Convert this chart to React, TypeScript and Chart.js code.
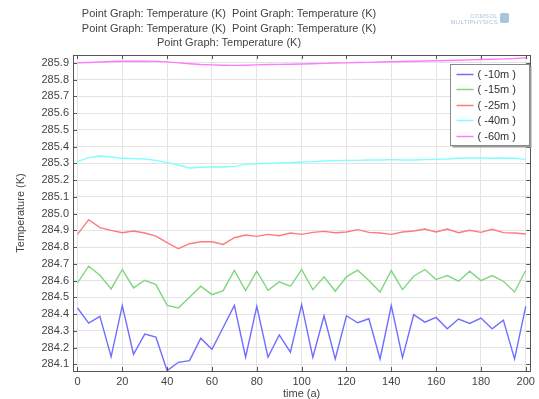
import React, { useEffect, useRef } from "react";
import { Chart, registerables } from "chart.js";

Chart.register(...registerables);

const years = [0, 5, 10, 15, 20, 25, 30, 35, 40, 45, 50, 55, 60, 65, 70, 75, 80, 85, 90, 95, 100, 105, 110, 115, 120, 125, 130, 135, 140, 145, 150, 155, 160, 165, 170, 175, 180, 185, 190, 195, 200];

const depth10 = [284.436, 284.346, 284.386, 284.146, 284.45, 284.16, 284.28, 284.262, 284.062, 284.112, 284.122, 284.256, 284.19, 284.32, 284.452, 284.142, 284.446, 284.142, 284.276, 284.172, 284.456, 284.142, 284.39, 284.132, 284.39, 284.348, 284.372, 284.132, 284.45, 284.14, 284.396, 284.352, 284.38, 284.312, 284.37, 284.344, 284.376, 284.312, 284.364, 284.132, 284.446];
const depth15 = [284.586, 284.686, 284.632, 284.55, 284.666, 284.556, 284.602, 284.576, 284.452, 284.436, 284.5, 284.566, 284.516, 284.54, 284.66, 284.54, 284.656, 284.542, 284.592, 284.566, 284.666, 284.546, 284.622, 284.536, 284.622, 284.662, 284.6, 284.532, 284.66, 284.546, 284.626, 284.666, 284.606, 284.63, 284.596, 284.656, 284.6, 284.63, 284.596, 284.532, 284.66];
const depth25 = [284.876, 284.964, 284.916, 284.9, 284.886, 284.896, 284.884, 284.866, 284.826, 284.79, 284.82, 284.832, 284.832, 284.816, 284.856, 284.872, 284.864, 284.876, 284.868, 284.884, 284.876, 284.888, 284.894, 284.886, 284.89, 284.904, 284.888, 284.884, 284.876, 284.89, 284.896, 284.908, 284.89, 284.908, 284.886, 284.9, 284.888, 284.906, 284.886, 284.884, 284.878];
const depth40 = [285.31, 285.334, 285.344, 285.338, 285.33, 285.328, 285.326, 285.318, 285.304, 285.29, 285.272, 285.276, 285.28, 285.278, 285.282, 285.294, 285.298, 285.3, 285.302, 285.304, 285.308, 285.31, 285.314, 285.316, 285.318, 285.318, 285.32, 285.32, 285.322, 285.32, 285.32, 285.322, 285.324, 285.326, 285.33, 285.332, 285.332, 285.33, 285.332, 285.33, 285.324];
const depth60 = [285.9, 285.902, 285.905, 285.908, 285.91, 285.91, 285.91, 285.909, 285.906, 285.9, 285.895, 285.89, 285.888, 285.886, 285.885, 285.886, 285.888, 285.89, 285.891, 285.892, 285.893, 285.895, 285.897, 285.899, 285.9, 285.902, 285.903, 285.905, 285.907, 285.908, 285.91, 285.911, 285.913, 285.914, 285.916, 285.918, 285.92, 285.922, 285.924, 285.926, 285.93];

const seriesLabels = ["( -10m )", "( -15m )", "( -25m )", "( -40m )", "( -60m )"];
const seriesColors = ["#6f6fff", "#7fd67f", "#ff7a7a", "#7fffff", "#ff7aff"];
const seriesValues = [depth10, depth15, depth25, depth40, depth60];

const titleLines = [
  "Point Graph: Temperature (K)  Point Graph: Temperature (K)",
  "Point Graph: Temperature (K)  Point Graph: Temperature (K)",
  "Point Graph: Temperature (K)",
];

const FONT = "'Liberation Sans', Arial, sans-serif";
const TEXT = "#444444";

const framePlugin = {
  id: "frameAndLegend",
  afterDraw(chart: any) {
    const { ctx, chartArea, scales } = chart;
    const { left, right, top, bottom } = chartArea;
    ctx.save();
    ctx.strokeStyle = "#555555";
    ctx.lineWidth = 1;
    const tl = 4;
    scales.x.ticks.forEach((t: any) => {
      const px = Math.round(scales.x.getPixelForValue(t.value)) + 0.5;
      ctx.beginPath();
      ctx.moveTo(px, bottom);
      ctx.lineTo(px, bottom - tl);
      ctx.moveTo(px, top);
      ctx.lineTo(px, top + tl);
      ctx.stroke();
    });
    scales.y.ticks.forEach((t: any) => {
      const py = Math.round(scales.y.getPixelForValue(t.value)) + 0.5;
      ctx.beginPath();
      ctx.moveTo(left, py);
      ctx.lineTo(left + tl, py);
      ctx.moveTo(right, py);
      ctx.lineTo(right - tl, py);
      ctx.stroke();
    });
    ctx.strokeStyle = "#555555";
    ctx.strokeRect(Math.round(left) + 0.5, Math.round(top) + 0.5, Math.round(right - left), Math.round(bottom - top));

    const bx = 450.5, by = 64.5, bw = 79, bh = 81;
    ctx.fillStyle = "#9a9a9a";
    ctx.fillRect(bx + 2, by + 2, bw, bh);
    ctx.fillStyle = "#ffffff";
    ctx.fillRect(bx, by, bw, bh);
    ctx.strokeStyle = "#8a8a8a";
    ctx.strokeRect(bx, by, bw, bh);
    ctx.font = "11px " + FONT;
    ctx.textBaseline = "middle";
    ctx.textAlign = "left";
    chart.data.datasets.forEach((ds: any, i: number) => {
      const y = Math.round(by + 9 + i * 15.6) + 0.5;
      ctx.strokeStyle = ds.borderColor;
      ctx.lineWidth = 1.5;
      ctx.beginPath();
      ctx.moveTo(bx + 6, y);
      ctx.lineTo(bx + 23, y);
      ctx.stroke();
      ctx.fillStyle = "#333333";
      ctx.fillText(ds.label, bx + 27, y + 0.5);
    });
    ctx.restore();
  },
};

export default function App() {
  const canvasRef = useRef<HTMLCanvasElement | null>(null);

  useEffect(() => {
    if (!canvasRef.current) return;
    const chart = new Chart(canvasRef.current, {
      type: "line",
      data: {
        labels: years,
        datasets: seriesValues.map((vals, i) => ({
          label: seriesLabels[i],
          data: vals.map((v, j) => ({ x: years[j], y: v })),
          borderColor: seriesColors[i],
          backgroundColor: seriesColors[i],
          borderWidth: 1.4,
          pointRadius: 0,
          tension: 0,
          fill: false,
        })),
      },
      options: {
        animation: false,
        responsive: false,
        maintainAspectRatio: false,
        layout: { padding: { left: 14, right: 6, top: 55, bottom: -2 } },
        plugins: {
          legend: { display: false },
          title: { display: false },
          tooltip: { enabled: false },
        },
        scales: {
          x: {
            type: "linear",
            min: -2,
            max: 202,
            afterFit: (s: any) => { s.height = 30; },
            ticks: {
              stepSize: 20,
              includeBounds: false,
              color: TEXT,
              font: { family: FONT, size: 11 },
              padding: 4,
              maxRotation: 0,
            },
            grid: { color: "#e4e4e4", drawTicks: false },
            border: { display: false },
            title: {
              display: true,
              text: "time (a)",
              color: TEXT,
              font: { family: FONT, size: 11 },
              padding: { top: 0, bottom: 0 },
            },
          },
          y: {
            type: "linear",
            min: 284.06,
            max: 285.947,
            afterFit: (s: any) => { s.width = 59; },
            ticks: {
              stepSize: 0.1,
              includeBounds: false,
              color: TEXT,
              font: { family: FONT, size: 11 },
              padding: 4,
            },
            grid: { color: "#e4e4e4", drawTicks: false },
            border: { display: false },
            title: {
              display: true,
              text: "Temperature (K)",
              color: TEXT,
              font: { family: FONT, size: 11 },
              padding: { top: 0, bottom: 0 },
            },
          },
        },
      },
      plugins: [framePlugin],
    } as any);
    return () => chart.destroy();
  }, []);

  return (
    <div style={{ position: "absolute", left: 0, top: 0, width: 539, height: 399, background: "#ffffff", overflow: "hidden" }}>
      <canvas ref={canvasRef} width={539} height={399} style={{ position: "absolute", left: 0, top: 0, width: 539, height: 399 }} />
      <div style={{ position: "absolute", left: 0, top: 6, width: 458, textAlign: "center", fontFamily: FONT, fontSize: 11, color: TEXT, lineHeight: "14.5px" }}>
        {titleLines.map((t, i) => (
          <div key={i} style={{ whiteSpace: "pre" }}>{t}</div>
        ))}
      </div>
      <div style={{ position: "absolute", left: 430, top: 13, width: 68, textAlign: "right", fontFamily: FONT, fontSize: 6, color: "#a9c4dc", lineHeight: "6px", letterSpacing: 0.3 }}>
        <div>COMSOL</div>
        <div>MULTIPHYSICS</div>
      </div>
      <div style={{ position: "absolute", left: 500, top: 13, width: 9, height: 10, borderRadius: 2, background: "#a9c4dc" }} />
    </div>
  );
}
